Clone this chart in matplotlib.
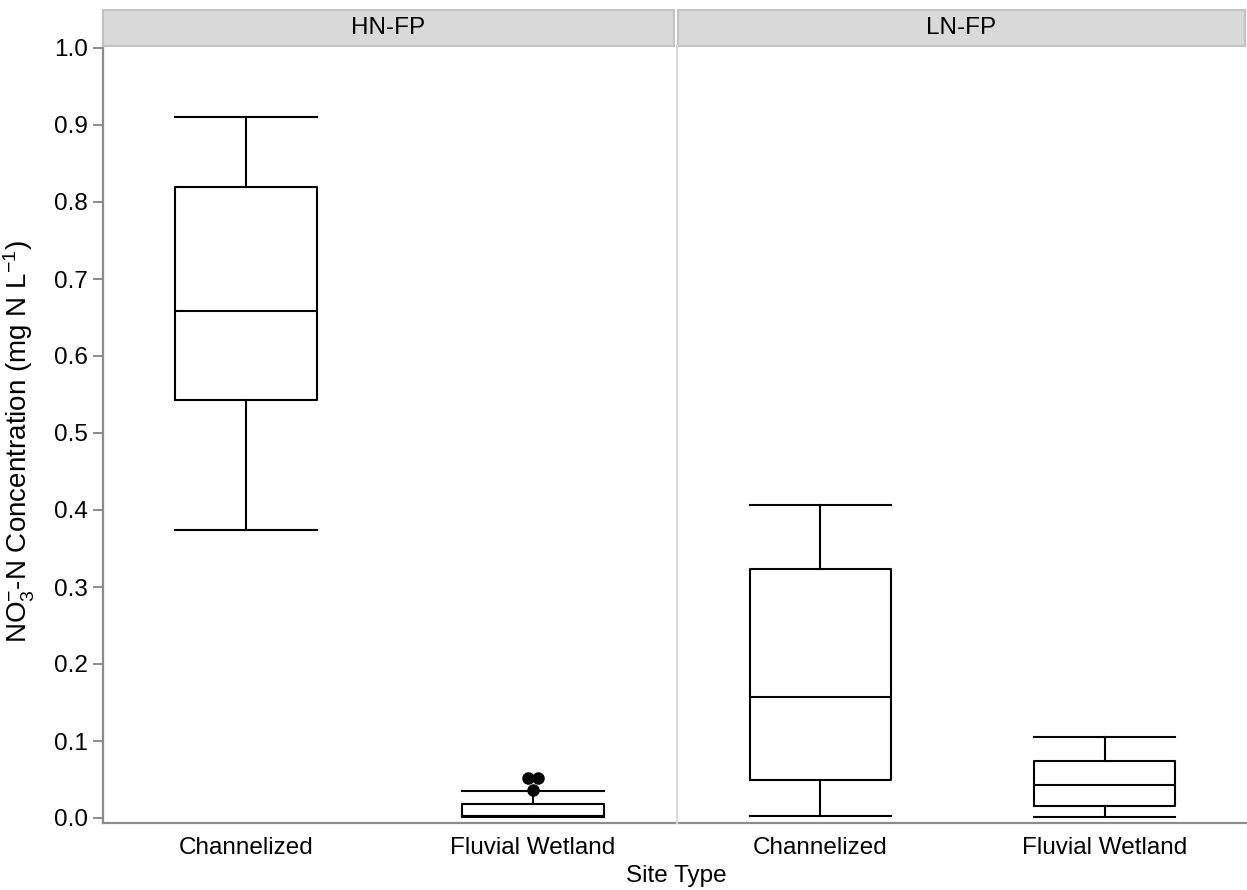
import matplotlib
matplotlib.use("Agg")
import matplotlib.pyplot as plt
from matplotlib.lines import Line2D

plt.rcParams["font.family"] = ["Liberation Sans", "DejaVu Sans"]
plt.rcParams["mathtext.fontset"] = "custom"
plt.rcParams["mathtext.rm"] = "Liberation Sans"
plt.rcParams["mathtext.it"] = "Liberation Sans:italic"

# Nitrate summary statistics per floodplain group and site type
panels = ["HN-FP", "LN-FP"]
site_types = ["Channelized", "Fluvial Wetland"]

whislo = {"HN-FP": [0.374, 0.001], "LN-FP": [0.003, 0.001]}
q1 = {"HN-FP": [0.543, 0.002], "LN-FP": [0.050, 0.016]}
median = {"HN-FP": [0.658, 0.003], "LN-FP": [0.157, 0.043]}
q3 = {"HN-FP": [0.819, 0.018], "LN-FP": [0.323, 0.074]}
whishi = {"HN-FP": [0.910, 0.035], "LN-FP": [0.406, 0.105]}
fliers = {"HN-FP": [[], [0.052, 0.052, 0.037]], "LN-FP": [[], []]}

y_ticks = [0.0, 0.1, 0.2, 0.3, 0.4, 0.5, 0.6, 0.7, 0.8, 0.9, 1.0]

W, H = 1247, 890
fig = plt.figure(figsize=(W / 100, H / 100), dpi=100)

axis_grey = "#8c8c8c"
strip_fill = "#d9d9d9"
strip_edge = "#c2c2c2"
FS = 17.5

panel_px = [(103, 676), (678, 1247)]
top_px, bottom_px = 46, 823
ymin, ymax = -5 / 770, 1 + 2 / 770


def spread(values, step):
    """Horizontal offsets so that equal values sit side by side."""
    offs = []
    for i, v in enumerate(values):
        same = [j for j, w in enumerate(values) if w == v]
        k = same.index(i)
        n = len(same)
        offs.append((k - (n - 1) / 2) * step)
    return offs


axes = []
for p, (x0, x1) in zip(panels, panel_px):
    ax = fig.add_axes([x0 / W, (H - bottom_px) / H, (x1 - x0) / W,
                       (bottom_px - top_px) / H])
    axes.append(ax)
    stats = []
    for i in range(len(site_types)):
        stats.append(dict(whislo=whislo[p][i], q1=q1[p][i], med=median[p][i],
                          q3=q3[p][i], whishi=whishi[p][i], fliers=[]))
    ax.bxp(stats, positions=[0, 1], widths=0.495, showfliers=False,
           boxprops=dict(color="black", linewidth=1.5),
           medianprops=dict(color="black", linewidth=1.5),
           whiskerprops=dict(color="black", linewidth=1.5),
           capprops=dict(color="black", linewidth=1.5),
           capwidths=0.495)
    for i, fl in enumerate(fliers[p]):
        if fl:
            offs = spread(fl, 0.035)
            ax.plot([i + o for o in offs], fl, "o", color="black",
                    markersize=8, zorder=5, clip_on=False)
    ax.set_xlim(-0.5, 1.5)
    ax.set_ylim(ymin, ymax)
    ax.set_xticks([0, 1])
    ax.set_xticklabels(site_types, fontsize=FS)
    ax.tick_params(axis="x", length=0, pad=10)
    for s in ["top", "right", "left"]:
        ax.spines[s].set_visible(False)
    ax.spines["bottom"].set_color(axis_grey)
    ax.spines["bottom"].set_linewidth(1.6)

    # facet strip
    sax = fig.add_axes([x0 / W, (H - top_px) / H, (x1 - x0 - 2) / W, 36 / H])
    sax.set_xticks([])
    sax.set_yticks([])
    sax.set_facecolor(strip_fill)
    for s in sax.spines.values():
        s.set_color(strip_edge)
        s.set_linewidth(1.5)
    sax.text(0.5, 0.5, p, ha="center", va="center", fontsize=FS,
             transform=sax.transAxes)

left, right = axes
left.spines["left"].set_visible(True)
left.spines["left"].set_color(axis_grey)
left.spines["left"].set_linewidth(1.6)
left.set_yticks(y_ticks)
left.set_yticklabels([f"{t:.1f}" for t in y_ticks], fontsize=FS)
left.tick_params(axis="y", length=7, width=1.4, color=axis_grey, pad=4)
right.set_yticks([])

# light divider between the two facets
fig.add_artist(Line2D([676.5 / W, 676.5 / W], [(H - bottom_px) / H, (H - top_px) / H],
                      color="#dcdcdc", linewidth=1.6))

fig.text(19 / W, 1 - 442 / H,
         r"NO$_3^{-}$-N Concentration (mg N L$^{-1}$)", fontsize=20,
         rotation=90, ha="center", va="center")
fig.text(676 / W, 1 - 876 / H, "Site Type", ha="center", va="center", fontsize=FS)

fig.savefig("out.png", dpi=100)
